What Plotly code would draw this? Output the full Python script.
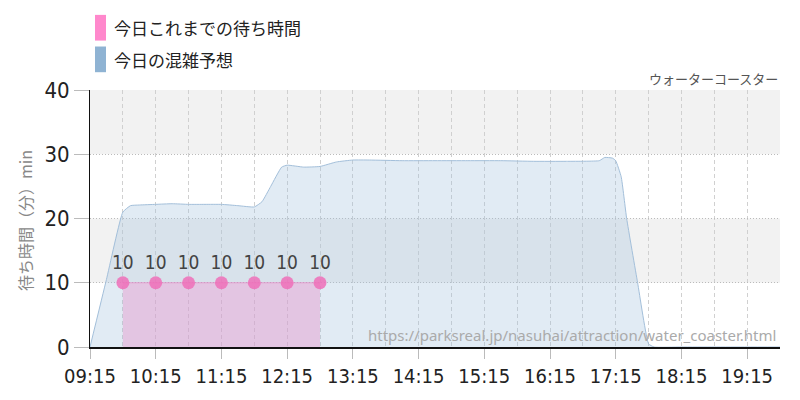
import plotly.graph_objects as go
import pandas as pd

day = "2024-07-01 "
actual_times = ["09:45", "10:15", "10:45", "11:15", "11:45", "12:15", "12:45"]
actual_vals = [10, 10, 10, 10, 10, 10, 10]

fc_times = ["09:15", "09:30", "09:45", "09:52", "10:00", "10:15", "10:30", "10:45", "11:00",
            "11:15", "11:30", "11:45", "11:52", "12:00", "12:10", "12:15", "12:30", "12:45",
            "13:00", "13:15", "13:30", "14:00", "14:30", "15:00", "15:30", "16:00", "16:30",
            "17:00", "17:05", "17:12", "17:15", "17:20", "17:25", "17:35", "17:45", "17:50",
            "18:15", "18:45", "19:15", "19:45"]
fc_vals = [0, 10.5, 21, 22, 22.1, 22.2, 22.3, 22.2, 22.2,
           22.2, 22.0, 21.8, 22.6, 25, 28, 28.3, 28.0, 28.1,
           28.8, 29.1, 29.1, 29.0, 29.0, 29.0, 29.0, 28.9, 28.9,
           29.0, 29.5, 29.4, 29.0, 26.5, 20, 10, 0.5, 0,
           0, 0, 0, 0]

y_ticks = [0, 10, 20, 30, 40]
legend_labels = ["今日これまでの待ち時間", "今日の混雑予想"]
title_text = "ウォーターコースター"
url_text = "https://parksreal.jp/nasuhai/attraction/water_coaster.html"
y_title = "待ち時間（分）min"

fc_x = pd.to_datetime([day + t for t in fc_times])
ac_x = pd.to_datetime([day + t for t in actual_times])

narrow = "Liberation Sans Narrow, DejaVu Sans Condensed, Roboto"
jp = "Noto Sans CJK JP"

fig = go.Figure()
fig.add_trace(go.Scatter(x=fc_x, y=fc_vals, mode="lines", fill="tozeroy",
                         line=dict(color="#a3bfda", width=1, shape="spline", smoothing=0.4),
                         fillcolor="rgba(165,195,222,0.33)", showlegend=False, hoverinfo="skip"))
fig.add_trace(go.Scatter(x=ac_x, y=actual_vals, mode="lines+markers+text", fill="tozeroy",
                         line=dict(color="rgba(230,120,190,0.6)", width=1),
                         fillcolor="rgba(230,150,205,0.45)",
                         marker=dict(color="rgba(238,110,185,0.85)", size=13),
                         text=[str(v) for v in actual_vals], textposition="top center",
                         textfont=dict(family=narrow, size=19, color="#444"),
                         showlegend=False, hoverinfo="skip"))

shapes = []
for lo, hi in [(10, 20), (30, 40)]:
    shapes.append(dict(type="rect", xref="paper", yref="y", x0=0, x1=1, y0=lo, y1=hi,
                       fillcolor="#f2f2f2", line=dict(width=0), layer="below"))
legend_colors = ["#ff88cc", "#8fb3d3"]
annotations = []
for i, (lab, col) in enumerate(zip(legend_labels, legend_colors)):
    yc = 27 + i * 32
    shapes.append(dict(type="rect", xref="paper", yref="paper",
                       x0=(95 - 90) / 690, x1=(106 - 90) / 690,
                       y0=(350 - (yc - 13)) / 260, y1=(350 - (yc + 13)) / 260,
                       fillcolor=col, line=dict(width=0)))
    annotations.append(dict(xref="paper", yref="paper", x=(112 - 90) / 690, y=(350 - yc) / 260,
                            text=lab, showarrow=False, xanchor="left", yanchor="middle",
                            font=dict(family=jp, size=17, color="#222")))
annotations.append(dict(xref="paper", yref="paper", x=1, y=(350 - 78) / 260, text=title_text,
                        showarrow=False, xanchor="right", yanchor="middle",
                        font=dict(family=jp, size=13, color="#555")))
annotations.append(dict(xref="paper", yref="paper", x=(778 - 90) / 690, y=(350 - 338) / 260,
                        text=url_text, showarrow=False, xanchor="right", yanchor="middle",
                        font=dict(family="Noto Sans, Roboto", size=15, color="#aaa")))
annotations.append(dict(xref="paper", yref="paper", x=(25 - 90) / 690, y=0.49, text=y_title,
                        showarrow=False, textangle=-90, xanchor="center", yanchor="middle",
                        font=dict(family=jp, size=16, color="#888")))

fig.update_layout(
    width=800, height=400, margin=dict(l=90, r=20, t=90, b=50),
    paper_bgcolor="white", plot_bgcolor="white",
    shapes=shapes, annotations=annotations,
    xaxis=dict(type="date", range=[day + "09:15", day + "19:45"],
               tick0=day + "09:15", dtick=3600000, tickformat="%H:%M",
               showgrid=True, gridcolor="#d0d0d0", griddash="4px,3px", gridwidth=1,
               minor=dict(dtick=1800000, tick0=day + "09:45", showgrid=True,
                          gridcolor="#d0d0d0", griddash="4px,3px"),
               ticks="outside", ticklen=10, tickcolor="#bbb",
               showline=True, linecolor="#111", linewidth=2,
               tickfont=dict(family=narrow, size=20, color="#222"), zeroline=False),
    yaxis=dict(range=[0, 40], tickvals=y_ticks, showgrid=True, gridcolor="#bbbbbb",
               griddash="1px,2px", ticks="outside", ticklen=15, tickcolor="#bbb",
               showline=True, linecolor="#111", linewidth=1,
               tickfont=dict(family=narrow, size=22, color="#222"), zeroline=False),
)
fig.write_html("out.html")
